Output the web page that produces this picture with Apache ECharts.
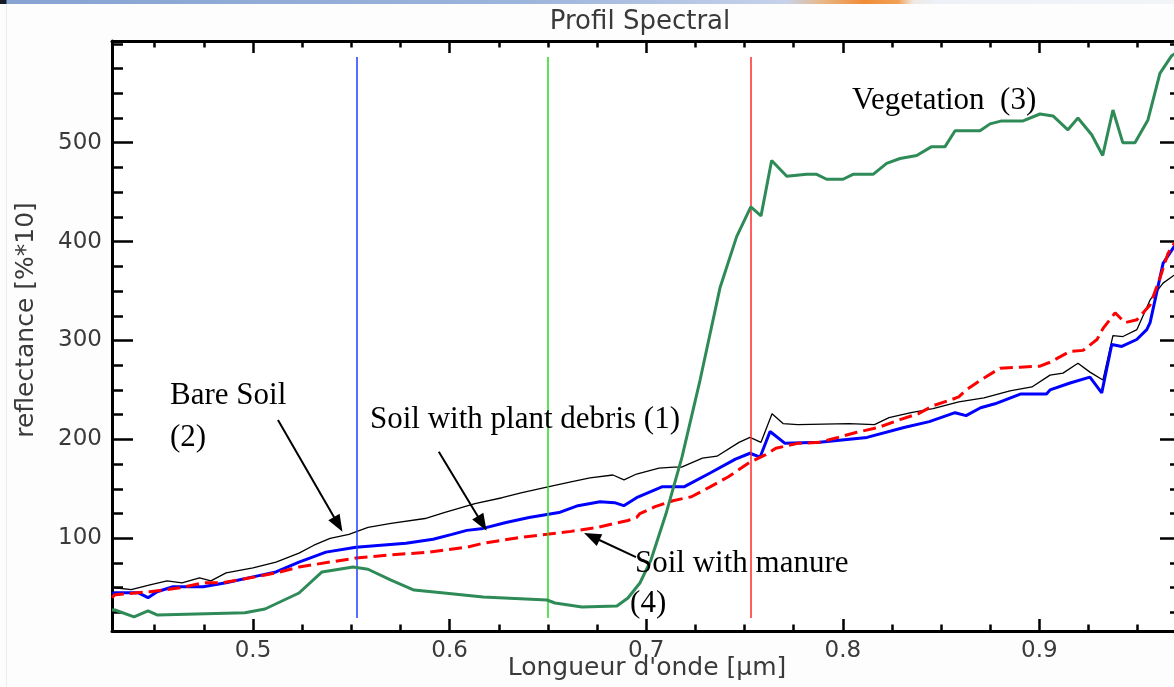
<!DOCTYPE html>
<html>
<head>
<meta charset="utf-8">
<script src="https://cdn.jsdelivr.net/npm/echarts@6/dist/echarts.min.js"></script>
<style>
  html, body { margin: 0; padding: 0; background: #fdfdfd; }
  #chart { width: 1174px; height: 687px; }
</style>
</head>
<body>
<div id="chart"></div>
<script>
// ---------- data (wavelength in µm, reflectance in %*10) ----------
const bareSoilX = [0.42828,0.4298,0.4380,0.4476,0.4563,0.4639,0.4728,0.4786,0.4863,0.5000,0.5117,0.5234,0.5310,0.5392,0.5488,0.5585,0.5702,0.5875,0.5972,0.6129,0.6267,0.6363,0.6500,0.6617,0.6714,0.6831,0.6887,0.6951,0.7065,0.7141,0.7180,0.7286,0.7360,0.7472,0.7528,0.7584,0.7640,0.7696,0.7771,0.8032,0.8161,0.8235,0.8347,0.8459,0.8590,0.8718,0.8850,0.8962,0.9054,0.9120,0.9196,0.9257,0.9323,0.9349,0.9374,0.9425,0.9496,0.9563,0.9629,0.9685,0.9720];
const bareSoilY = [52,50,48,53,57,55,60,57,65,70,76,85,93,100,104,111,115,120,126,135,141,146,152,157,161,164,159,165,171,172,172,181,183,197,202,197,226,216,215,216,215,222,227,231,238,242,249,253,265,267,277,268,260,283,305,304,311,341,358,366,370];

const debrisX = [0.42828,0.4298,0.4415,0.4466,0.4512,0.4593,0.4746,0.4863,0.5000,0.5117,0.5234,0.5371,0.5524,0.5778,0.5916,0.6012,0.6088,0.6170,0.6287,0.6404,0.6495,0.6556,0.6653,0.6765,0.6839,0.6886,0.6951,0.7080,0.7192,0.7325,0.7454,0.7528,0.7579,0.7630,0.7706,0.7882,0.8123,0.8311,0.8440,0.8571,0.8627,0.8701,0.8774,0.8906,0.9036,0.9054,0.9156,0.9257,0.9317,0.9368,0.9419,0.9495,0.9546,0.9563,0.9629,0.9685,0.9720];
const debrisY = [44,45,45,40,46,51,51,55,61,66,76,86,91,95,99,104,108,110,116,121,124,126,133,137,136,133,141,152,152,166,180,186,182,208,196,197,202,212,218,227,224,232,236,246,246,250,257,263,247,296,294,301,311,318,378,395,400];

const manureX = [0.42828,0.4298,0.4476,0.4629,0.4746,0.4842,0.4959,0.5117,0.5234,0.5392,0.5524,0.5682,0.5895,0.6088,0.6170,0.6363,0.6495,0.6617,0.6752,0.6839,0.6907,0.6951,0.6968,0.7045,0.7136,0.7230,0.7325,0.7416,0.7528,0.7603,0.7659,0.7771,0.7882,0.7976,0.8067,0.8179,0.8291,0.8385,0.8459,0.8550,0.8590,0.8627,0.8701,0.8800,0.8901,0.9003,0.9054,0.9156,0.9222,0.9293,0.9323,0.9385,0.9435,0.9496,0.9563,0.9613,0.9654,0.9685,0.9720];
const manureY = [40,43,46,50,55,55,59,65,71,76,80,83,86,91,95,101,104,107,111,115,118,121,125,132,138,142,152,162,177,184,191,196,197,202,207,212,220,226,234,240,243,250,260,272,273,274,278,289,290,301,312,328,318,321,336,363,388,398,404];

const vegetationX = [0.42828,0.4298,0.4395,0.4466,0.4512,0.4710,0.4959,0.5061,0.5234,0.5351,0.5509,0.5585,0.5702,0.5819,0.5972,0.6170,0.6495,0.6536,0.6673,0.6851,0.6907,0.6968,0.7024,0.7101,0.7182,0.7274,0.7375,0.7460,0.7532,0.7584,0.7638,0.7715,0.7816,0.7867,0.7918,0.8001,0.8052,0.8154,0.8223,0.8291,0.8376,0.8452,0.8520,0.8571,0.8698,0.8749,0.8808,0.8917,0.9003,0.9069,0.9145,0.9196,0.9266,0.9322,0.9374,0.9424,0.9486,0.9552,0.9613,0.9673,0.9720];
const vegetationY = [27.5,27.5,20.5,26.5,22.5,23.5,24.7,28.5,44.7,66,71,68.7,57.8,47.7,44.7,40.6,37.6,34.6,30.5,31.5,39.6,54.8,78,125,182,260,353,405,435,426,482,466,468,468,463,463,468,468,479,484,487,496,496,512,512,519,522,522,529,527,513,525,508,487,533,500,500,523,570,588,594];

// band markers (wavelength) and their colours
const bandLines = [0.553, 0.650, 0.753];
const bandColors = ['#1f3dff', '#22dd22', '#ff2a2a'];
const bandSpan = [19.4, 586.7];

// axis ticks
const xMajor = [0.5, 0.6, 0.7, 0.8, 0.9];
const xMinor = [0.45,0.475,0.525,0.55,0.575,0.625,0.65,0.675,0.725,0.75,0.775,0.825,0.85,0.875,0.925,0.95];
const yMajor = [100, 200, 300, 400, 500];
const yMinor = [25,50,75,125,150,175,225,250,275,325,350,375,425,450,475,525,550,575,600];

// annotations: text and anchor (wavelength, reflectance)
const noteTexts = ['Bare Soil', '(2)', 'Soil with plant debris (1)', 'Soil with manure', '(4)', 'Vegetation  (3)'];
const noteAnchors = [[0.4578, 244.5], [0.4578, 202.0], [0.5595, 219.5], [0.6943, 74.0], [0.6918, 34.0], [0.8047, 542.0]];
// arrows: [tail wavelength, tail reflectance, tip wavelength, tip reflectance]
const arrows = [[0.5127, 219.6, 0.5455, 106.6], [0.5945, 187.6, 0.6188, 107.6], [0.6948, 81.0, 0.6684, 105.4]];

// ---------- chart ----------
const xMin = 0.42828, xMax = 0.97202, yMin = 6.27, yMax = 602.8;
const zip = (xs, ys) => xs.map((x, i) => [x, ys[i]]);
const tickFont = '"DejaVu Sans", sans-serif';
const textGrey = '#3a3a3a';

function xAxisDef(pos, values, len, main) {
  return {
    type: 'value', position: pos, min: xMin, max: xMax,
    axisLine: { show: main, onZero: false, lineStyle: { color: '#000', width: 3 } },
    axisTick: { show: true, inside: true, length: len, customValues: values, lineStyle: { color: '#000', width: 2.5 } },
    axisLabel: (main && pos === 'bottom') ? { show: true, customValues: values, margin: 9, fontFamily: tickFont, fontSize: 23, color: textGrey, formatter: v => v.toFixed(1) } : { show: false },
    splitLine: { show: false }
  };
}
function yAxisDef(pos, values, len, main) {
  return {
    type: 'value', position: pos, min: yMin, max: yMax,
    axisLine: { show: main, onZero: false, lineStyle: { color: '#000', width: 3 } },
    axisTick: { show: true, inside: true, length: len, customValues: values, lineStyle: { color: '#000', width: 2.5 } },
    axisLabel: (main && pos === 'left') ? { show: true, customValues: values, margin: 10, fontFamily: tickFont, fontSize: 23, color: textGrey } : { show: false },
    splitLine: { show: false }
  };
}

const chart = echarts.init(document.getElementById('chart'), null, { renderer: 'canvas' });
chart.setOption({
  backgroundColor: '#fdfdfd',
  animation: false,
  grid: { left: 112, top: 41, width: 1069, height: 590, containLabel: false, outerBoundsMode: 'none', backgroundColor: '#fff', show: true, borderWidth: 0 },
  xAxis: [
    xAxisDef('bottom', xMajor, 12, true),
    xAxisDef('bottom', xMinor, 6.5, false),
    xAxisDef('top', xMajor, 12, true),
    xAxisDef('top', xMinor, 6.5, false)
  ],
  yAxis: [
    yAxisDef('left', yMajor, 21, true),
    yAxisDef('left', yMinor, 11, false),
    yAxisDef('right', yMajor, 21, true),
    yAxisDef('right', yMinor, 11, false)
  ],
  series: [
    { type: 'line', name: 'Bare Soil (2)', data: zip(bareSoilX, bareSoilY), showSymbol: false, z: 2,
      lineStyle: { color: '#000', width: 1.3 } },
    { type: 'line', name: 'Soil with plant debris (1)', data: zip(debrisX, debrisY), showSymbol: false, z: 3,
      lineStyle: { color: '#0000ff', width: 3 } },
    { type: 'line', name: 'Soil with manure (4)', data: zip(manureX, manureY), showSymbol: false, z: 4,
      lineStyle: { color: '#ff0000', width: 3, type: [13, 6] } },
    { type: 'line', name: 'Vegetation (3)', data: zip(vegetationX, vegetationY), showSymbol: false, z: 5,
      lineStyle: { color: '#2e8b57', width: 3 } },
    { type: 'line', name: 'bands', data: [], z: 1,
      markLine: {
        silent: true, symbol: ['none', 'none'], label: { show: false },
        data: bandLines.map((b, i) => [
          { coord: [b, bandSpan[0]], lineStyle: { color: bandColors[i], width: 1.5, type: 'solid' } },
          { coord: [b, bandSpan[1]] }
        ])
      }
    }
  ]
});

// ---------- annotations, titles, header ----------
const toPx = p => chart.convertToPixel({ seriesIndex: 0 }, p);
const els = [];

// header strip
els.push({ type: 'rect', shape: { x: 0, y: 0, width: 1174, height: 4 }, z: 10,
  style: { fill: { type: 'linear', x: 0, y: 0, x2: 1, y2: 0, colorStops: [
    { offset: 0, color: '#141a28' }, { offset: 0.005, color: '#141a28' }, { offset: 0.006, color: '#87a3d2' },
    { offset: 0.45, color: '#9db4dc' }, { offset: 0.67, color: '#c6d2ea' }, { offset: 0.70, color: '#e8b888' },
    { offset: 0.735, color: '#f08c38' }, { offset: 0.765, color: '#f2a055' }, { offset: 0.778, color: '#eee9e6' },
    { offset: 0.80, color: '#eef1f8' }, { offset: 1, color: '#f3f4f8' } ] } } });
els.push({ type: 'rect', shape: { x: 6, y: 4, width: 1, height: 683 }, z: 10, style: { fill: '#ececec' } });

// titles
els.push({ type: 'text', x: 640, y: 22, z: 10, style: { text: 'Profil Spectral', fontFamily: tickFont, fontSize: 26, fill: textGrey, align: 'center', verticalAlign: 'middle' } });
els.push({ type: 'text', x: 647, y: 668, z: 10, style: { text: "Longueur d'onde [μm]", fontFamily: tickFont, fontSize: 25, fill: textGrey, align: 'center', verticalAlign: 'middle' } });
els.push({ type: 'text', x: 26, y: 320, rotation: Math.PI / 2, z: 10, style: { text: 'reflectance [%*10]', fontFamily: tickFont, fontSize: 25, fill: textGrey, align: 'center', verticalAlign: 'middle' } });

// notes
noteTexts.forEach((t, i) => {
  const p = toPx(noteAnchors[i]);
  els.push({ type: 'text', x: p[0], y: p[1], z: 20, style: { text: t, fontFamily: '"Liberation Serif", "Times New Roman", serif', fontSize: 31, fill: '#000', align: 'left', verticalAlign: 'middle' } });
});

// arrows
arrows.forEach(a => {
  const t = toPx([a[0], a[1]]), h = toPx([a[2], a[3]]);
  const dx = h[0] - t[0], dy = h[1] - t[1], L = Math.hypot(dx, dy);
  const ux = dx / L, uy = dy / L, nx = -uy, ny = ux;
  const hl = 17, hw = 6.5;
  const bx = h[0] - ux * hl, by = h[1] - uy * hl;
  els.push({ type: 'line', z: 20, shape: { x1: t[0], y1: t[1], x2: bx + ux * 2, y2: by + uy * 2 }, style: { stroke: '#000', lineWidth: 2 } });
  els.push({ type: 'polygon', z: 20, shape: { points: [[h[0], h[1]], [bx + nx * hw, by + ny * hw], [bx - nx * hw, by - ny * hw]] }, style: { fill: '#000' } });
});

chart.setOption({ graphic: els });
</script>
</body>
</html>
